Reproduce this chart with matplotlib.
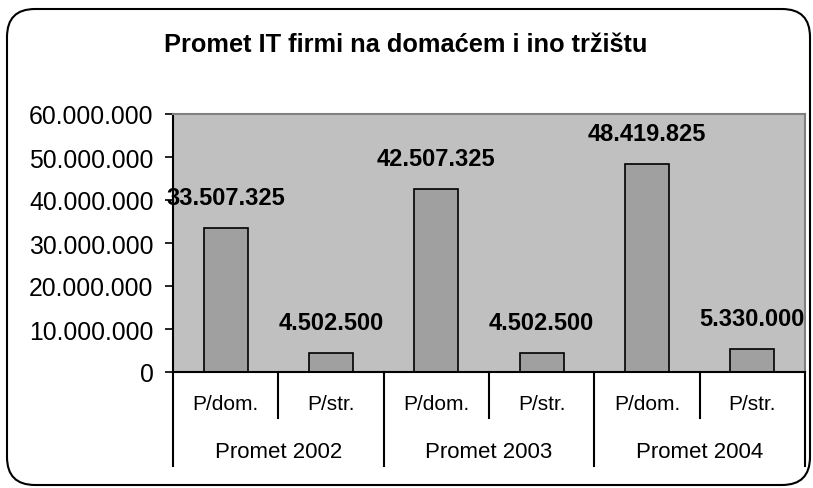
import matplotlib
matplotlib.use("Agg")
import matplotlib.pyplot as plt
from matplotlib.patches import FancyBboxPatch
from matplotlib.transforms import IdentityTransform
from matplotlib.ticker import FuncFormatter

# podaci
kategorije = ["P/dom.", "P/str.", "P/dom.", "P/str.", "P/dom.", "P/str."]
grupe = ["Promet 2002", "Promet 2003", "Promet 2004"]
vrijednosti = [33507325, 4502500, 42507325, 4502500, 48419825, 5330000]
oznake = ["33.507.325", "4.502.500", "42.507.325", "4.502.500", "48.419.825", "5.330.000"]
y_ticks = [0, 10000000, 20000000, 30000000, 40000000, 50000000, 60000000]

plt.rcParams['font.family'] = ['Liberation Sans', 'DejaVu Sans']

fig = plt.figure(figsize=(8.13, 4.89), dpi=100)
ax = fig.add_axes([173 / 813, 1 - 373 / 489, 632 / 813, 258 / 489])
ax.set_facecolor('#C0C0C0')

x = list(range(len(vrijednosti)))
ax.bar(x, vrijednosti, width=0.42, color='#A0A0A0', edgecolor='black', linewidth=1.2, zorder=2)

for xi, v, t in zip(x, vrijednosti, oznake):
    ax.annotate(t, (xi, v), xytext=(0, 22), textcoords='offset points',
                ha='center', va='center', fontsize=17, fontweight='bold', clip_on=False)

ax.set_xlim(-0.5, 5.5)
ax.set_ylim(0, 60000000)
ax.set_yticks(y_ticks)
ax.yaxis.set_major_formatter(FuncFormatter(lambda v, p: f"{int(v):,}".replace(",", ".")))
ax.tick_params(axis='y', labelsize=17.8, length=6, width=1.2, pad=8)
ax.set_xticks([])

for s in ['left', 'bottom']:
    ax.spines[s].set_linewidth(1.5)
for s in ['top', 'right']:
    ax.spines[s].set_color('#808080')
    ax.spines[s].set_linewidth(1.5)

# dvorazinska os kategorija
tr = ax.get_xaxis_transform()
for i in range(len(kategorije) + 1):
    b = i - 0.5
    dno = -0.364 if i % 2 == 0 else -0.178
    ax.plot([b, b], [0, dno], color='black', lw=1.5, transform=tr, clip_on=False)
for xi, k in zip(x, kategorije):
    ax.text(xi, -0.124, k, transform=tr, ha='center', va='center', fontsize=15)
for gi, g in enumerate(grupe):
    ax.text(2 * gi + 0.5, -0.31, g, transform=tr, ha='center', va='center', fontsize=16)

fig.text(406 / 813, 1 - 45 / 489, "Promet IT firmi na domaćem i ino tržištu",
         ha='center', va='center', fontsize=18.3, fontweight='bold')

okvir = FancyBboxPatch((7, 3), 803, 476, boxstyle="round,pad=0,rounding_size=28",
                       transform=IdentityTransform(), facecolor='none',
                       edgecolor='black', linewidth=1.5)
fig.patches.append(okvir)

fig.savefig("out.png", dpi=100)
